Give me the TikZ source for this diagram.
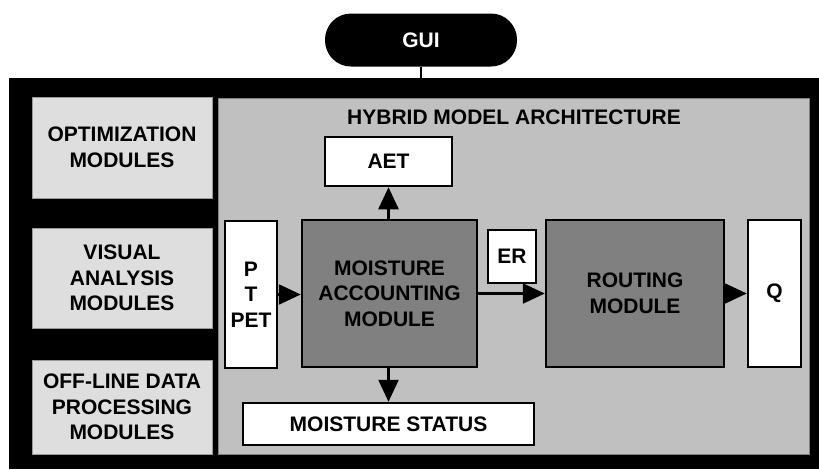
\documentclass[tikz,border=0pt]{standalone}
\usepackage{fontspec}
\setmainfont{Liberation Sans}
\usetikzlibrary{arrows.meta}
\definecolor{lightpanel}{HTML}{DEDEDE}
\definecolor{mainpanel}{HTML}{C0C0C0}
\definecolor{darkbox}{HTML}{808080}
\begin{document}
\begin{tikzpicture}[x=1pt,y=-1pt,
  every node/.style={font=\fontsize{21}{25.5}\selectfont\bfseries, align=center, inner sep=0pt},
  sidepanel/.style={fill=lightpanel, draw=gray!80, line width=0.8pt},
  whitebox/.style={fill=white, draw=black, line width=2.5pt},
  darkmod/.style={fill=darkbox, draw=black, line width=2.5pt},
  flow/.style={line width=2.5pt, -{Triangle[width=20pt,length=22pt]}}
]
\useasboundingbox (0,0) rectangle (819,469);
% outer black frame
\node[fill=black, minimum width=810pt, minimum height=391pt, anchor=north west] (frame) at (9,78) {};
% GUI
\node[fill=black, text=white, rounded corners=26pt, minimum width=192pt, minimum height=53pt] (gui) at (421,40) {GUI};
\draw[line width=2pt] (gui.south) -- (gui.south |- frame.north);
% left panels
\node[sidepanel, minimum width=180pt, minimum height=101pt] (opt) at (122,147.5) {OPTIMIZATION\\MODULES};
\node[sidepanel, minimum width=180pt, minimum height=100pt] (vis) at (122,278) {VISUAL\\ANALYSIS\\MODULES};
\node[sidepanel, minimum width=180pt, minimum height=94pt] (off) at (122,407) {OFF-LINE DATA\\PROCESSING\\MODULES};
% main panel
\node[fill=mainpanel, draw=darkbox, line width=0.8pt, minimum width=591pt, minimum height=356pt] (main) at (513.5,276) {};
\node (title) at (514,117) {HYBRID MODEL ARCHITECTURE};
% boxes
\node[whitebox, minimum width=127pt, minimum height=49pt] (aet) at (388.5,161.5) {AET};
\node[whitebox, minimum width=52pt, minimum height=147pt] (input) at (251,294.5) {P\\T\\PET};
\node[darkmod, minimum width=175pt, minimum height=147pt] (ma) at (389.5,293.5) {MOISTURE\\ACCOUNTING\\MODULE};
\node[whitebox, minimum width=48pt, minimum height=53pt] (er) at (512,256.5) {ER};
\node[darkmod, minimum width=178pt, minimum height=147pt] (rout) at (635,293.5) {ROUTING\\MODULE};
\node[whitebox, minimum width=53pt, minimum height=147pt] (q) at (774.5,293.5) {Q};
\node[whitebox, minimum width=291pt, minimum height=42pt] (ms) at (388.5,424) {MOISTURE STATUS};
% arrows
\draw[flow] (ma.north -| aet.south) -- (aet.south);
\draw[flow] (ma.south -| ms.north) -- (ms.north);
\draw[flow] (input.east) -- (input.east -| ma.west);
\draw[flow] (ma.east) -- (rout.west);
\draw[flow] (rout.east) -- (q.west);
\end{tikzpicture}
\end{document}
